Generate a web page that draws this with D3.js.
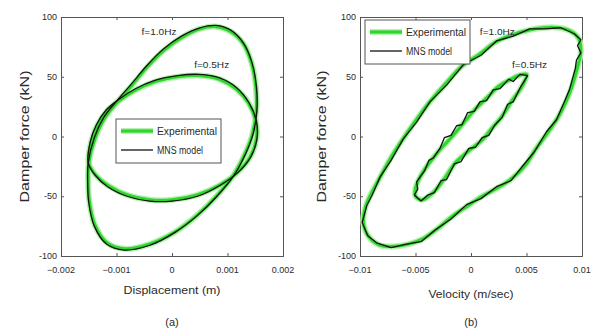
<!DOCTYPE html>
<html>
<head>
<meta charset="utf-8">
<script src="https://cdn.jsdelivr.net/npm/d3@7"></script>
<style>
  body { margin: 0; background: #fff; }
  svg { display: block; font-family: "Liberation Sans", Arial, sans-serif; }
</style>
</head>
<body>
<svg id="chart" width="595" height="333"></svg>
<script>
// force ticks shared by both panels
var forceTicks = [-100, -50, 0, 50, 100]
var dispTicks = [-0.002, -0.001, 0, 0.001, 0.002]
var velTicks = [-0.01, -0.005, 0, 0.005, 0.01]
var legendLabels = ["Experimental", "MNS model"]

// (a) displacement (m) vs force (kN)
var dispExp10 = [[-0.00150,-22],[-0.00139,-2],[-0.00122,15],[-0.00100,28],[-0.00072,43],[-0.00045,58],[-0.00015,72],[0.00018,83],[0.00050,90],[0.00078,92],[0.00105,88],[0.00128,78],[0.00143,62],[0.00151,42],[0.00152,22],[0.00145,2],[0.00132,-14],[0.00110,-33],[0.00080,-50],[0.00045,-66],[0.00005,-80],[-0.00040,-90],[-0.00085,-94],[-0.00117,-89],[-0.00139,-74],[-0.00149,-54],[-0.00151,-37]]
var dispMod10 = [[-0.00151,-22],[-0.00140,-1],[-0.00123,16],[-0.00101,29],[-0.00073,44],[-0.00046,59],[-0.00016,73],[0.00017,84],[0.00050,91],[0.00079,93],[0.00106,89],[0.00129,78],[0.00144,62],[0.00152,42],[0.00153,22],[0.00146,2],[0.00133,-14],[0.00111,-33],[0.00081,-50],[0.00046,-66],[0.00006,-80],[-0.00040,-91],[-0.00086,-95],[-0.00118,-90],[-0.00140,-75],[-0.00150,-55],[-0.00152,-37]]
var dispExp05 = [[-0.00150,-22],[-0.00146,-5],[-0.00135,9],[-0.00118,21],[-0.00095,30],[-0.00065,39],[-0.00030,46],[0.00010,50],[0.00050,51],[0.00085,48],[0.00115,40],[0.00138,28],[0.00151,13],[0.00152,-2],[0.00141,-17],[0.00118,-30],[0.00085,-41],[0.00045,-49],[0.00000,-53],[-0.00040,-53],[-0.00080,-49],[-0.00115,-41],[-0.00138,-32]]
var dispMod05 = [[-0.00151,-22],[-0.00147,-4],[-0.00136,10],[-0.00119,22],[-0.00096,31],[-0.00066,40],[-0.00031,47],[0.00010,51],[0.00050,52],[0.00086,49],[0.00116,41],[0.00139,28],[0.00152,13],[0.00153,-2],[0.00142,-17],[0.00119,-30],[0.00086,-41],[0.00046,-50],[0.00000,-54],[-0.00040,-54],[-0.00081,-50],[-0.00116,-42],[-0.00139,-32]]

// (b) velocity (m/sec) vs force (kN)
var velExp10 = [[-0.0097,-72],[-0.0092,-84],[-0.0082,-91],[-0.0070,-92],[-0.0056,-90],[-0.0044,-86],[-0.0030,-77],[-0.0017,-67],[-0.0003,-58],[0.0010,-50],[0.0024,-43],[0.0037,-35],[0.0049,-24],[0.0058,-11],[0.0069,3],[0.0079,17],[0.0086,30],[0.0091,42],[0.0096,58],[0.0099,72],[0.0097,82],[0.0090,88],[0.0079,91],[0.0065,91],[0.0052,89],[0.0037,85],[0.0022,79],[0.0008,69],[-0.0008,59],[-0.0023,44],[-0.0038,28],[-0.0050,13],[-0.0062,-3],[-0.0073,-19],[-0.0083,-36],[-0.0090,-48],[-0.0095,-59]]
var velMod10 = [[-0.0098,-72],[-0.0093,-83],[-0.0085,-89],[-0.0072,-93],[-0.0058,-90],[-0.0045,-88],[-0.0032,-78],[-0.0018,-69],[-0.0004,-57],[0.0009,-52],[0.0023,-42],[0.0036,-37],[0.0048,-23],[0.0057,-13],[0.0068,4],[0.0077,14],[0.0085,31],[0.0089,40],[0.0094,57],[0.0095,64],[0.0099,70],[0.0096,76],[0.0099,81],[0.0093,86],[0.0081,91],[0.0066,90],[0.0053,90],[0.0038,84],[0.0023,80],[0.0009,68],[-0.0007,60],[-0.0022,43],[-0.0037,29],[-0.0049,12],[-0.0061,-2],[-0.0072,-20],[-0.0082,-34],[-0.0089,-49],[-0.0094,-58]]
var velExp05 = [[-0.0050,-50],[-0.0044,-53],[-0.0038,-50],[-0.0032,-45],[-0.0023,-34],[-0.0014,-22],[-0.0002,-12],[0.0010,-3],[0.0019,7],[0.0028,17],[0.0037,30],[0.0046,42],[0.0050,52],[0.0043,51],[0.0034,47],[0.0025,42],[0.0014,32],[0.0004,23],[-0.0007,11],[-0.0017,0],[-0.0026,-9],[-0.0035,-19],[-0.0042,-28],[-0.0047,-36],[-0.0050,-43]]
var velMod05 = [[-0.0051,-49],[-0.0045,-54],[-0.0039,-49],[-0.0033,-47],[-0.0027,-37],[-0.0022,-36],[-0.0015,-23],[-0.0009,-21],[-0.0002,-10],[0.0004,-9],[0.0010,-1],[0.0016,1],[0.0021,9],[0.0028,16],[0.0033,27],[0.0038,29],[0.0045,42],[0.0051,51],[0.0044,52],[0.0038,46],[0.0034,48],[0.0026,40],[0.0020,39],[0.0014,30],[0.0008,29],[0.0003,21],[-0.0003,20],[-0.0008,10],[-0.0013,9],[-0.0018,1],[-0.0024,-1],[-0.0028,-10],[-0.0034,-18],[-0.0038,-20],[-0.0042,-29],[-0.0046,-34],[-0.0049,-38],[-0.0048,-44]]

var svg = d3.select("#chart")
var axisColor = "#555"
var textColor = "#2a2a2a"

function drawPanel(cfg) {
  var x = d3.scaleLinear().domain(cfg.xdom).range([cfg.left, cfg.right])
  var y = d3.scaleLinear().domain([-100, 100]).range([cfg.bottom, cfg.top])
  var g = svg.append("g")
  var w = cfg.right - cfg.left, h = cfg.bottom - cfg.top

  // box + inward ticks, matlab style
  g.append("g").attr("transform", "translate(0," + cfg.bottom + ")")
    .call(d3.axisBottom(x).tickValues(cfg.xticks).tickSize(-3).tickFormat(""))
  g.append("g").attr("transform", "translate(0," + cfg.top + ")")
    .call(d3.axisTop(x).tickValues(cfg.xticks).tickSize(-3).tickFormat(""))
  g.append("g").attr("transform", "translate(" + cfg.left + ",0)")
    .call(d3.axisLeft(y).tickValues(forceTicks).tickSize(-3).tickFormat(""))
  g.append("g").attr("transform", "translate(" + cfg.right + ",0)")
    .call(d3.axisRight(y).tickValues(forceTicks).tickSize(-3).tickFormat(""))
  g.selectAll(".domain").attr("stroke", axisColor)
  g.selectAll(".tick line").attr("stroke", axisColor)

  // tick labels
  g.selectAll(".xl").data(cfg.xticks).enter().append("text")
    .attr("x", function(d){ return x(d) }).attr("y", cfg.bottom + 17)
    .attr("text-anchor", "middle").attr("font-size", 9).attr("fill", textColor)
    .text(function(d){ return d === 0 ? "0" : d3.format("")(d) })
  g.selectAll(".yl").data(forceTicks).enter().append("text")
    .attr("x", cfg.left - 4).attr("y", function(d){ return y(d) + 3 })
    .attr("text-anchor", "end").attr("font-size", 9).attr("fill", textColor)
    .text(function(d){ return d })

  // titles
  g.append("text").attr("x", cfg.left + w / 2).attr("y", cfg.xtitleY)
    .attr("text-anchor", "middle").attr("font-size", 11).attr("fill", textColor)
    .attr("textLength", cfg.xtitleLen).attr("lengthAdjust", "spacingAndGlyphs")
    .text(cfg.xtitle)
  g.append("text")
    .attr("transform", "translate(" + cfg.ytitleX + "," + (cfg.top + h / 2) + ") rotate(-90)")
    .attr("text-anchor", "middle").attr("font-size", 12).attr("fill", textColor)
    .attr("textLength", 132).attr("lengthAdjust", "spacingAndGlyphs")
    .text("Damper force (kN)")
  g.append("text").attr("x", cfg.left + w / 2).attr("y", 326)
    .attr("text-anchor", "middle").attr("font-size", 11).attr("fill", textColor)
    .text(cfg.caption)

  // loops
  var smooth = d3.line().x(function(d){ return x(d[0]) }).y(function(d){ return y(d[1]) })
    .curve(d3.curveCatmullRomClosed)
  var jag = d3.line().x(function(d){ return x(d[0]) }).y(function(d){ return y(d[1]) })
    .curve(cfg.jagged ? d3.curveLinearClosed : d3.curveCatmullRomClosed)
  cfg.exp.forEach(function(s){
    g.append("path").attr("d", smooth(s)).attr("fill", "none").attr("stroke", "#b8f0b0").attr("stroke-width", 6)
  })
  cfg.exp.forEach(function(s){
    g.append("path").attr("d", smooth(s)).attr("fill", "none").attr("stroke", "#2fd62f").attr("stroke-width", 3.2)
  })
  cfg.mod.forEach(function(s){
    g.append("path").attr("d", jag(s)).attr("fill", "none").attr("stroke", "#111").attr("stroke-width", 1.3)
      .attr("stroke-linejoin", "round")
  })

  // frequency labels
  cfg.flabels.forEach(function(f){
    g.append("text").attr("x", x(f.x)).attr("y", y(f.y)).attr("font-size", 8.5).attr("fill", textColor)
      .attr("textLength", 35).attr("lengthAdjust", "spacingAndGlyphs").text(f.t)
  })

  // legend
  var lg = g.append("g").attr("transform", "translate(" + cfg.legend[0] + "," + cfg.legend[1] + ")")
  lg.append("rect").attr("width", 105).attr("height", 44).attr("fill", "#fff").attr("stroke", axisColor)
  lg.append("line").attr("x1", 5).attr("x2", 37).attr("y1", 12).attr("y2", 12).attr("stroke", "#b8f0b0").attr("stroke-width", 6)
  lg.append("line").attr("x1", 5).attr("x2", 37).attr("y1", 12).attr("y2", 12).attr("stroke", "#2fd62f").attr("stroke-width", 3.2)
  lg.append("line").attr("x1", 5).attr("x2", 37).attr("y1", 31).attr("y2", 31).attr("stroke", "#111").attr("stroke-width", 1.3)
  lg.selectAll(".lt").data(legendLabels).enter().append("text")
    .attr("x", 41).attr("y", function(d, i){ return 15.5 + i * 19 })
    .attr("font-size", 10).attr("fill", textColor)
    .attr("textLength", function(d, i){ return i ? 46 : 60 }).attr("lengthAdjust", "spacingAndGlyphs")
    .text(function(d){ return d })
}

drawPanel({
  left: 61, right: 283, top: 17, bottom: 256,
  xdom: [-0.002, 0.002], xticks: dispTicks,
  xtitle: "Displacement (m)", xtitleLen: 97, xtitleY: 294, ytitleX: 29, caption: "(a)",
  exp: [dispExp10, dispExp05], mod: [dispMod10, dispMod05], jagged: false,
  flabels: [{x: -0.00055, y: 85, t: "f=1.0Hz"}, {x: 0.0004, y: 57, t: "f=0.5Hz"}],
  legend: [116, 119]
})
drawPanel({
  left: 360, right: 582, top: 17, bottom: 256,
  xdom: [-0.01, 0.01], xticks: velTicks,
  xtitle: "Velocity (m/sec)", xtitleLen: 85, xtitleY: 298, ytitleX: 326, caption: "(b)",
  exp: [velExp10, velExp05], mod: [velMod10, velMod05], jagged: true,
  flabels: [{x: 0.0008, y: 85, t: "f=1.0Hz"}, {x: 0.0037, y: 57, t: "f=0.5Hz"}],
  legend: [365, 20]
})
</script>
</body>
</html>
